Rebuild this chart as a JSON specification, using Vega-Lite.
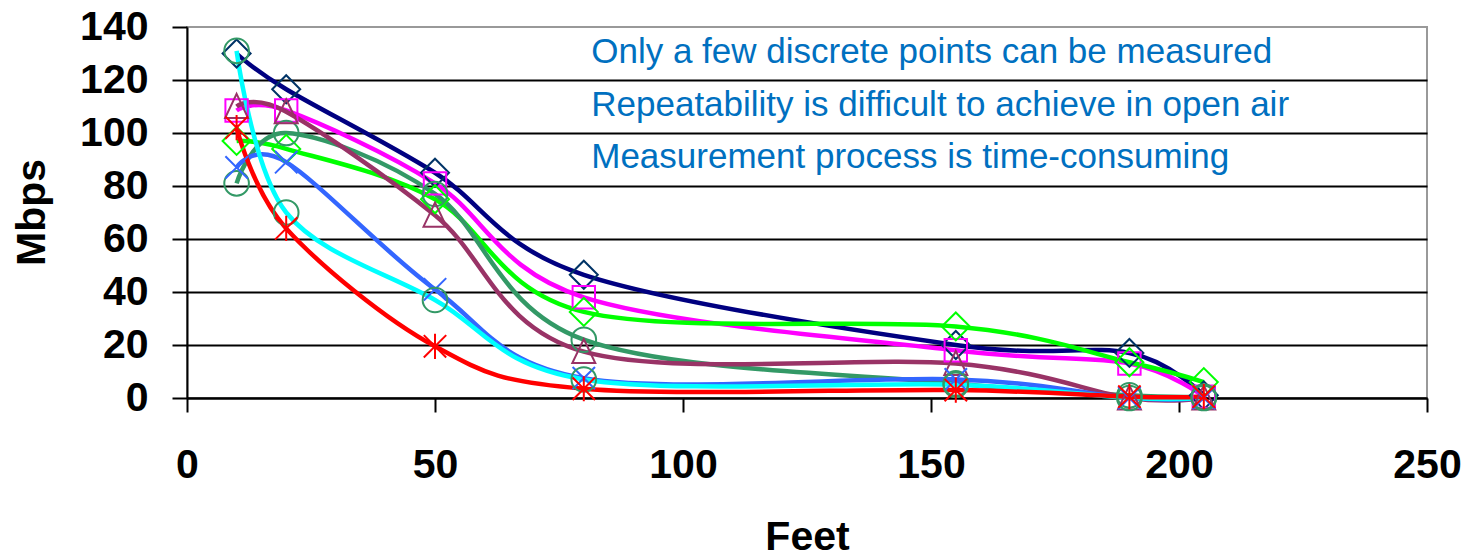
{
  "$schema": "https://vega.github.io/schema/vega-lite/v6.json",
  "width": 1240,
  "height": 371,
  "autosize": {"type": "none"},
  "padding": {"left": 187, "top": 27, "right": 38, "bottom": 160},
  "background": "white",
  "config": {"view": {"stroke": "#999999", "strokeWidth": 2}, "font": "Liberation Sans"},
  "data": {
    "values": [
      {"series": "A", "feet": 10, "mbps": 130},
      {"series": "A", "feet": 20, "mbps": 116.5},
      {"series": "A", "feet": 50, "mbps": 85},
      {"series": "A", "feet": 80, "mbps": 46.5},
      {"series": "A", "feet": 155, "mbps": 20},
      {"series": "A", "feet": 190, "mbps": 17},
      {"series": "A", "feet": 205, "mbps": 1},
      {"series": "B", "feet": 10, "mbps": 108.5},
      {"series": "B", "feet": 20, "mbps": 108.5},
      {"series": "B", "feet": 50, "mbps": 81},
      {"series": "B", "feet": 80, "mbps": 38},
      {"series": "B", "feet": 155, "mbps": 18},
      {"series": "B", "feet": 190, "mbps": 13},
      {"series": "B", "feet": 205, "mbps": 0.5},
      {"series": "C", "feet": 10, "mbps": 97},
      {"series": "C", "feet": 20, "mbps": 94},
      {"series": "C", "feet": 50, "mbps": 75},
      {"series": "C", "feet": 80, "mbps": 32.5},
      {"series": "C", "feet": 155, "mbps": 27},
      {"series": "C", "feet": 190, "mbps": 13.5},
      {"series": "C", "feet": 205, "mbps": 6},
      {"series": "D", "feet": 10, "mbps": 81},
      {"series": "D", "feet": 20, "mbps": 100},
      {"series": "D", "feet": 50, "mbps": 77},
      {"series": "D", "feet": 80, "mbps": 22},
      {"series": "D", "feet": 155, "mbps": 5.5},
      {"series": "D", "feet": 190, "mbps": 1},
      {"series": "D", "feet": 205, "mbps": 0.5},
      {"series": "E", "feet": 10, "mbps": 110},
      {"series": "E", "feet": 20, "mbps": 108},
      {"series": "E", "feet": 50, "mbps": 69},
      {"series": "E", "feet": 80, "mbps": 17.5},
      {"series": "E", "feet": 155, "mbps": 13},
      {"series": "E", "feet": 190, "mbps": 0},
      {"series": "E", "feet": 205, "mbps": 0},
      {"series": "F", "feet": 10, "mbps": 87},
      {"series": "F", "feet": 20, "mbps": 89},
      {"series": "F", "feet": 50, "mbps": 41},
      {"series": "F", "feet": 80, "mbps": 7.5},
      {"series": "F", "feet": 155, "mbps": 7},
      {"series": "F", "feet": 190, "mbps": 0},
      {"series": "F", "feet": 205, "mbps": 0},
      {"series": "G", "feet": 10, "mbps": 131},
      {"series": "G", "feet": 20, "mbps": 70},
      {"series": "G", "feet": 50, "mbps": 37},
      {"series": "G", "feet": 80, "mbps": 7},
      {"series": "G", "feet": 155, "mbps": 5},
      {"series": "G", "feet": 190, "mbps": 0},
      {"series": "G", "feet": 205, "mbps": 0},
      {"series": "H", "feet": 10, "mbps": 102},
      {"series": "H", "feet": 20, "mbps": 64},
      {"series": "H", "feet": 50, "mbps": 19.5},
      {"series": "H", "feet": 80, "mbps": 3.5},
      {"series": "H", "feet": 155, "mbps": 3},
      {"series": "H", "feet": 190, "mbps": 0.5},
      {"series": "H", "feet": 205, "mbps": 0.5}
    ]
  },
  "layer": [
    {
      "mark": {"type": "line", "interpolate": "cardinal", "strokeWidth": 4.5},
      "encoding": {
        "x": {
          "field": "feet", "type": "quantitative",
          "scale": {"domain": [0, 250], "nice": false, "zero": true},
          "axis": {
            "values": [0, 50, 100, 150, 200, 250], "grid": false,
            "domainColor": "black", "domainWidth": 2,
            "tickColor": "black", "tickWidth": 2, "tickSize": 14,
            "labelFont": "Liberation Sans", "labelFontSize": 41, "labelFontWeight": "bold", "labelColor": "black",
            "labelPadding": 33, "labelFlush": false, "labelOverlap": false,
            "title": "Feet", "titleFont": "Liberation Sans", "titleFontSize": 41, "titleFontWeight": "bold", "titleColor": "black",
            "titleBaseline": "alphabetic", "titleY": 151, "titleX": 620
          }
        },
        "y": {
          "field": "mbps", "type": "quantitative",
          "scale": {"domain": [0, 140], "nice": false},
          "axis": {
            "values": [0, 20, 40, 60, 80, 100, 120, 140], "grid": true,
            "gridColor": {"condition": {"test": "datum.value >= 140", "value": "transparent"}, "value": "black"},
            "gridWidth": 2,
            "domainColor": "black", "domainWidth": 2,
            "tickColor": "black", "tickWidth": 2, "tickSize": 15,
            "labelFont": "Liberation Sans", "labelFontSize": 41, "labelFontWeight": "bold", "labelColor": "black",
            "labelPadding": 24, "labelOverlap": false, "labelFlush": false,
            "title": "Mbps", "titleFont": "Liberation Sans", "titleFontSize": 41, "titleFontWeight": "bold", "titleColor": "black",
            "titleAngle": 270, "titleBaseline": "alphabetic", "titleAlign": "center", "titleX": -143, "titleY": 185
          }
        },
        "color": {
          "field": "series", "type": "nominal",
          "scale": {"domain": ["A", "B", "C", "D", "E", "F", "G", "H"],
                    "range": ["#000080", "#FF00FF", "#00FF00", "#339966", "#993366", "#3366FF", "#00FFFF", "#FF0000"]},
          "legend": null
        }
      }
    },
    {
      "mark": {"type": "point", "filled": false, "strokeWidth": 2, "size": 784, "opacity": 1},
      "encoding": {
        "x": {"field": "feet", "type": "quantitative"},
        "y": {"field": "mbps", "type": "quantitative"},
        "stroke": {
          "field": "series", "type": "nominal",
          "scale": {"domain": ["A", "B", "C", "D", "E", "F", "G", "H"],
                    "range": ["#003366", "#FF00FF", "#00FF00", "#339966", "#993366", "#3366FF", "#339966", "#FF0000"]},
          "legend": null
        },
        "shape": {
          "field": "series", "type": "nominal",
          "scale": {"domain": ["A", "B", "C", "D", "E", "F", "G", "H"],
                    "range": [
                      "M -1 0 L 0 -1 L 1 0 L 0 1 Z",
                      "M -0.8 -0.8 L 0.8 -0.8 L 0.8 0.8 L -0.8 0.8 Z",
                      "M -1 0 L 0 -1 L 1 0 L 0 1 Z",
                      "M 0.88 0 A 0.88 0.88 0 1 1 -0.88 0 A 0.88 0.88 0 1 1 0.88 0 Z",
                      "M 0 -0.9 L 0.82 0.82 L -0.82 0.82 Z",
                      "M -0.8 -0.8 L 0.8 0.8 M -0.8 0.8 L 0.8 -0.8",
                      "M 0.88 0 A 0.88 0.88 0 1 1 -0.88 0 A 0.88 0.88 0 1 1 0.88 0 Z",
                      "M -0.8 -0.8 L 0.8 0.8 M -0.8 0.8 L 0.8 -0.8 M 0 -0.9 L 0 0.9"
                    ]},
          "legend": null
        }
      }
    },
    {
      "data": {"values": [{}]},
      "mark": {"type": "text", "align": "left", "baseline": "middle", "font": "Liberation Sans", "fontSize": 35, "color": "#0070C0"},
      "encoding": {"x": {"datum": 81.5}, "y": {"datum": 130.5}, "text": {"value": "Only a few discrete points can be measured"}}
    },
    {
      "data": {"values": [{}]},
      "mark": {"type": "text", "align": "left", "baseline": "middle", "font": "Liberation Sans", "fontSize": 35, "color": "#0070C0"},
      "encoding": {"x": {"datum": 81.5}, "y": {"datum": 110.5}, "text": {"value": "Repeatability is difficult to achieve in open air"}}
    },
    {
      "data": {"values": [{}]},
      "mark": {"type": "text", "align": "left", "baseline": "middle", "font": "Liberation Sans", "fontSize": 35, "color": "#0070C0"},
      "encoding": {"x": {"datum": 81.5}, "y": {"datum": 90.8}, "text": {"value": "Measurement process is time-consuming"}}
    }
  ]
}
